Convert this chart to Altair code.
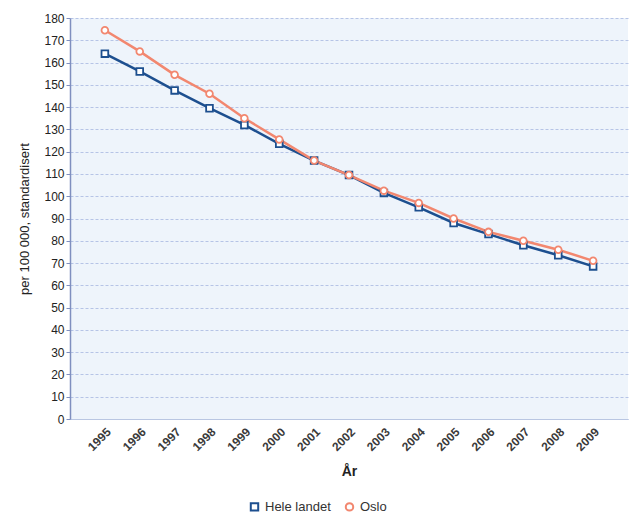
import altair as alt
import pandas as pd

years = [str(y) for y in range(1995, 2010)]
hele_landet = [164, 156, 147.5, 139.5, 132, 123.5, 116, 109.5, 101.5, 95, 88, 83, 78, 73.5, 68.5]
oslo = [174.5, 165, 154.5, 146, 135, 125.5, 116, 109.5, 102.5, 97, 90, 84, 80, 76, 71]
series_names = ["Hele landet", "Oslo"]

rows = []
for name, vals in zip(series_names, [hele_landet, oslo]):
    for y, v in zip(years, vals):
        rows.append({"År": y, "verdi": v, "serie": name})
df = pd.DataFrame(rows)

colors = ["#1d4f8f", "#f2876f"]

x = alt.X("År:O", title="År", scale=alt.Scale(type="point", padding=1.13),
          axis=alt.Axis(labelAngle=-45, labelFontSize=12, labelColor="#3a3a3a",
                        labelFont="Liberation Sans", labelFontWeight="bold",
                        titleFontSize=14, titleFont="Liberation Sans", titleColor="#222222",
                        titleFontWeight="bold", titlePadding=12,
                        domainColor="#b9c6e2", ticks=False, grid=False, labelPadding=7))
y = alt.Y("verdi:Q", title="per 100 000, standardisert",
          scale=alt.Scale(domain=[0, 180], nice=False),
          axis=alt.Axis(values=list(range(0, 181, 10)), labelFontSize=12, labelColor="#222222",
                        labelFont="Liberation Sans", titleFont="Liberation Sans",
                        titleFontSize=13, titleFontWeight="normal", titleColor="#222222",
                        titlePadding=12, domainColor="#7f8fbf", domainWidth=1.5,
                        tickColor="#7f8fbf", tickSize=4,
                        gridColor="#b6c4e6", gridDash=[3, 2], gridWidth=1))

color = alt.Color("serie:N", title=None, scale=alt.Scale(domain=series_names, range=colors),
                  legend=alt.Legend(orient="none", direction="horizontal", legendX=178, legendY=482,
                                    labelFont="Liberation Sans", labelFontSize=13,
                                    labelColor="#333333", symbolStrokeWidth=2,
                                    symbolSize=55, symbolFillColor="white", labelOffset=4))

lines = alt.Chart(df).mark_line(strokeWidth=2.5).encode(x=x, y=y, color=color)
points = alt.Chart(df).mark_point(filled=False, fill="white", fillOpacity=1, size=45,
                                  strokeWidth=1.8, opacity=1).encode(
    x=x, y=y, color=color, shape=alt.Shape("serie:N",
        scale=alt.Scale(domain=series_names, range=["square", "circle"]), title=None))

chart = alt.layer(lines, points).properties(
    width=558, height=401,
    autosize=alt.AutoSizeParams(type="none"),
    padding={"left": 70, "top": 18, "right": 1, "bottom": 96},
    background="white",
).configure_view(fill="#eef4fb", stroke=None)

chart.save("out.html", embed_options={"renderer": "svg", "actions": False})
